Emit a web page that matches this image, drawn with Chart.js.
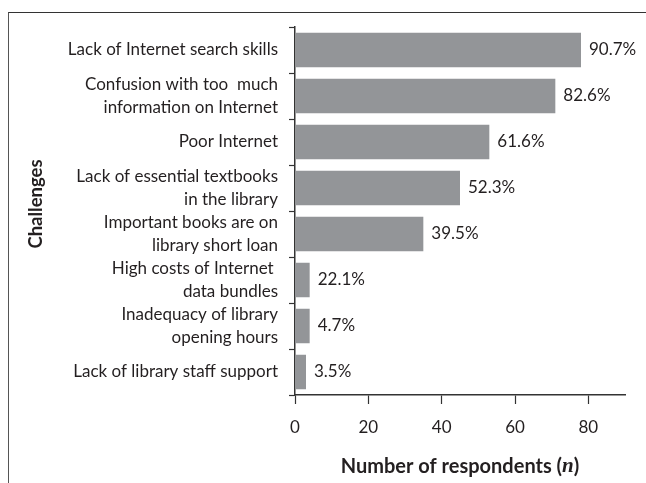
<!DOCTYPE html>
<html>
<head>
<meta charset="utf-8">
<script src="https://cdn.jsdelivr.net/npm/chart.js@4.4.1/dist/chart.umd.min.js"></script>
<style>
  html, body { margin: 0; padding: 0; background: #ffffff; overflow: hidden; }
  #wrap { position: relative; width: 646px; height: 483px; }
  #frame { position: absolute; left: 8px; top: 12px; width: 700px; height: 600px;
           border-left: 1.5px solid #555; border-top: 1.5px solid #333; pointer-events: none; }
  canvas { position: absolute; left: 0; top: 0; }
</style>
</head>
<body>
<div id="wrap">
  <canvas id="c" width="646" height="483"></canvas>
  <div id="frame"></div>
</div>
<script>
// ---- data ----
const categories = [
  "Lack of Internet search skills",
  ["Confusion with too  much", "information on Internet"],
  "Poor Internet",
  ["Lack of essential textbooks", "in the library"],
  ["Important books are on", "library short loan"],
  ["High costs of Internet ", "data bundles"],
  ["Inadequacy of library", "opening hours"],
  "Lack of library staff support"
];
const respondents = [78, 71, 53, 45, 35, 4, 4, 3];
const percentLabels = ["90.7%", "82.6%", "61.6%", "52.3%", "39.5%", "22.1%", "4.7%", "3.5%"];
const xTickValues = [0, 20, 40, 60, 80];
const xTitleParts = ["Number of respondents (", "n", ")"];
const yTitle = "Challenges";

const FONT = "Lato, 'Open Sans', sans-serif";
const TEXT = "#231f20";
const SIZE = 17;

const pctPlugin = {
  id: 'pctLabels',
  afterDatasetsDraw(chart) {
    const ctx = chart.ctx;
    const meta = chart.getDatasetMeta(0);
    ctx.save();
    ctx.font = SIZE + "px " + FONT;
    ctx.fillStyle = TEXT;
    ctx.textAlign = 'left';
    ctx.textBaseline = 'middle';
    meta.data.forEach((bar, i) => {
      ctx.fillText(percentLabels[i], bar.x + 8, bar.y);
    });
    ctx.restore();
  }
};

// axis titles: x title mixes a bold sans with a bold italic serif "n"
const titlePlugin = {
  id: 'axisTitles',
  afterDraw(chart) {
    const ctx = chart.ctx;
    const area = chart.chartArea;
    ctx.save();
    ctx.fillStyle = TEXT;
    ctx.textBaseline = 'middle';
    // x title
    const fonts = ["bold 20px " + FONT, "bold italic 21px 'Liberation Serif', 'DejaVu Serif', serif", "bold 20px " + FONT];
    const widths = xTitleParts.map((t, i) => { ctx.font = fonts[i]; return ctx.measureText(t).width; });
    const total = widths.reduce((a, b) => a + b, 0);
    let x = (area.left + area.right) / 2 - total / 2;
    const y = 467;
    ctx.textAlign = 'left';
    xTitleParts.forEach((t, i) => { ctx.font = fonts[i]; ctx.fillText(t, x, y); x += widths[i]; });
    // y title
    ctx.translate(36, 204);
    ctx.rotate(-Math.PI / 2);
    ctx.font = "bold 18.5px " + FONT;
    ctx.textAlign = 'center';
    ctx.fillText(yTitle, 0, 0);
    ctx.restore();
  }
};

new Chart(document.getElementById('c'), {
  type: 'bar',
  data: {
    labels: categories,
    datasets: [{
      data: respondents,
      backgroundColor: '#939598',
      borderWidth: 0,
      barPercentage: 0.75,
      categoryPercentage: 1.0
    }]
  },
  options: {
    indexAxis: 'y',
    responsive: false,
    animation: false,
    events: [],
    layout: { padding: { top: 27, right: 21, bottom: 0, left: 0 } },
    plugins: { legend: { display: false }, tooltip: { enabled: false } },
    scales: {
      x: {
        min: 0, max: 90,
        afterBuildTicks(scale) { scale.ticks = xTickValues.map(v => ({ value: v })); },
        afterFit(scale) { scale.height = 88; },
        grid: { drawOnChartArea: false, drawTicks: true, tickLength: 9, tickColor: '#333', tickWidth: 1.2 },
        border: { display: true, color: '#333', width: 1.5 },
        ticks: { color: TEXT, font: { family: FONT, size: SIZE }, padding: 13 }
      },
      y: {
        afterFit(scale) { scale.width = 295; },
        grid: { drawOnChartArea: false, drawTicks: true, tickLength: 6, tickColor: '#333', tickWidth: 1.2 },
        border: { display: true, color: '#333', width: 1.5 },
        ticks: { color: TEXT, font: { family: FONT, size: SIZE, lineHeight: 1.3 }, padding: 11, autoSkip: false }
      }
    }
  },
  plugins: [pctPlugin, titlePlugin]
});
</script>
</body>
</html>
